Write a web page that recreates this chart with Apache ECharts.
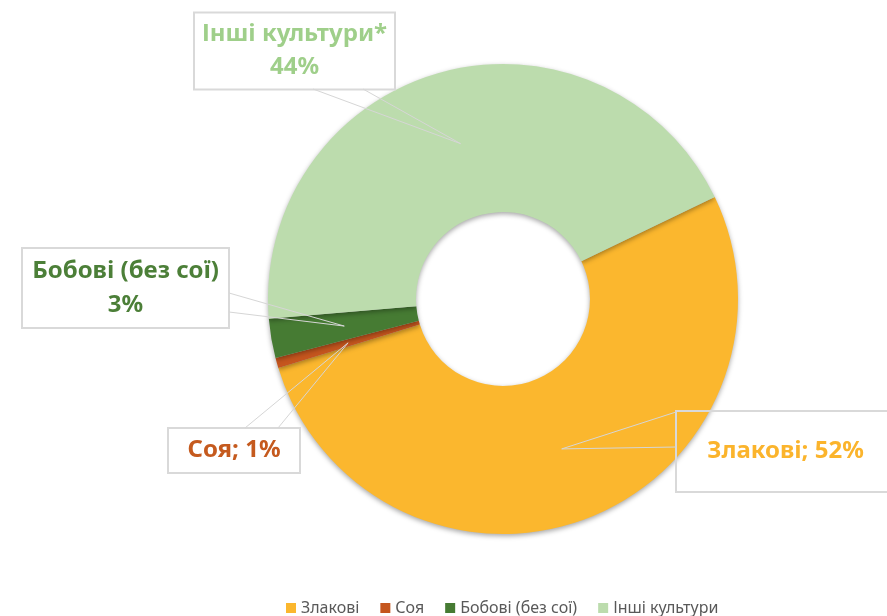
<!DOCTYPE html>
<html><head><meta charset="utf-8">
<script src="https://cdn.jsdelivr.net/npm/echarts@6/dist/echarts.min.js"></script>
<style>html,body{margin:0;padding:0;background:#fff}#c{width:887px;height:616px}</style>
</head><body><div id="c"></div>
<script>
// ---- data ----
const categories = ['Злакові', 'Соя', 'Бобові (без сої)', 'Інші культури'];
const labelNames = ['Злакові', 'Соя', 'Бобові (без сої)', 'Інші культури*'];
const values = [52.4, 0.7, 2.7, 44.2];

// ---- styles / layout ----
const colors = ['#fbb72e', '#c5561e', '#467b33', '#bcdcad'];
const labelColors = ['#fbb42c', '#c55a1e', '#4c7f38', '#9fcf8a'];
const labelMultiline = [false, false, true, true];
const CX = 503, CY = 299, R0 = 87, R1 = 235, START = 25.7;
const boxes = [
  {x: 785.5, y: 451.5, w: 219, pad: [30, 0, 17, 0], tail: [[676, 412], [676, 447]]},
  {x: 234, y: 450.5, w: 132, pad: [11, 0, 0, 0], tail: [[245, 428], [278, 428]]},
  {x: 125.5, y: 288, w: 207, pad: [12, 0, 0, 0], tail: [[229, 293], [229, 312]]},
  {x: 294.5, y: 51, w: 201, pad: [11, 0, 0, 0], lh: 33, tail: [[313, 89], [363, 89]]}
];

const total = values.reduce((a, b) => a + b, 0);
let acc = START;
const tails = values.map((v, i) => {
  const span = v / total * 360;
  const mid = (acc - span / 2) * Math.PI / 180;
  acc -= span;
  const rm = (R0 + R1) / 2;
  const p = [CX + rm * Math.cos(mid), CY - rm * Math.sin(mid)];
  return {
    type: 'polyline', z: 100,
    shape: {points: [boxes[i].tail[0], p, boxes[i].tail[1]]},
    style: {stroke: '#d6d6d6', fill: null, lineWidth: 1}
  };
});

const data = categories.map((n, i) => ({
  name: n,
  value: values[i],
  itemStyle: {color: colors[i]},
  label: {
    formatter: labelMultiline[i]
      ? labelNames[i] + '\n' + Math.round(values[i]) + '%'
      : labelNames[i] + '; ' + Math.round(values[i]) + '%',
    color: labelColors[i],
    width: boxes[i].w,
    lineHeight: boxes[i].lh || 34,
    padding: boxes[i].pad
  }
}));

const chart = echarts.init(document.getElementById('c'), null, {renderer: 'canvas'});
chart.setOption({
  animation: false,
  backgroundColor: '#ffffff',
  legend: {
    data: categories,
    top: 600, left: 286, padding: 0,
    itemWidth: 10, itemHeight: 10, itemGap: 21,
    icon: 'rect',
    selectedMode: false,
    textStyle: {fontSize: 16, color: '#595959', fontFamily: 'Noto Sans', lineHeight: 16}
  },
  graphic: tails,
  series: [{
    type: 'pie',
    center: [CX, CY],
    radius: [R0, R1],
    startAngle: START,
    clockwise: true,
    avoidLabelOverlap: false,
    emphasis: {disabled: true},
    itemStyle: {shadowBlur: 5, shadowOffsetY: 2, shadowColor: 'rgba(0,0,0,0.35)'},
    label: {
      show: true, position: 'outside',
      fontSize: 24, fontWeight: 'bold', fontFamily: 'Noto Sans',
      lineHeight: 34, align: 'center',
      borderColor: '#d9d9d9', borderWidth: 1,
      backgroundColor: 'rgba(255,255,255,0)'
    },
    labelLine: {show: false},
    labelLayout: function (p) {
      const b = boxes[p.dataIndex];
      return {x: b.x, y: b.y, align: 'center', verticalAlign: 'middle'};
    },
    data: data
  }]
});
</script></body></html>
